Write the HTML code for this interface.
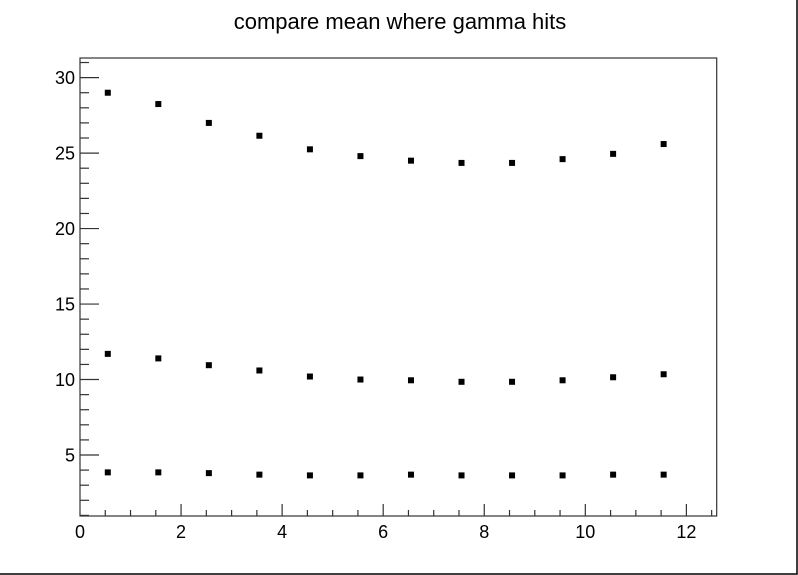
<!DOCTYPE html>
<html><head><meta charset="utf-8"><style>
body{margin:0;background:#fff}
svg{display:block;font-family:"Liberation Sans",Arial,sans-serif}
</style></head><body>
<svg id="c" width="798" height="575">
<polyline points="0,574 797,574 797,0" fill="none" stroke="#000" stroke-width="1.5"/>
<text x="400" y="29" text-anchor="middle" font-size="22">compare mean where gamma hits</text>
<g id="g"></g>
</svg>
<script>
const xs=[0.55,1.55,2.55,3.55,4.55,5.55,6.55,7.55,8.55,9.55,10.55,11.55];
const seriesTop=[29,28.25,27,26.15,25.25,24.8,24.5,24.35,24.35,24.6,24.95,25.6];
const seriesMid=[11.7,11.4,10.95,10.6,10.2,10.0,9.95,9.85,9.85,9.95,10.15,10.35];
const seriesLow=[3.85,3.85,3.8,3.7,3.65,3.65,3.7,3.65,3.65,3.65,3.7,3.7];
const xTicks=[0,2,4,6,8,10,12];
const yTicks=[5,10,15,20,25,30];
const L=80,R=716.7,T=58,B=516,x0=0,x1=12.6,y0=0.96,y1=31.3;
const X=v=>L+(v-x0)/(x1-x0)*(R-L);
const Y=v=>B-(v-y0)/(y1-y0)*(B-T);
const g=document.getElementById('g');const NS='http://www.w3.org/2000/svg';
function mk(t,a){const e=document.createElementNS(NS,t);for(const k in a)e.setAttribute(k,a[k]);g.appendChild(e);return e;}
let e=mk('rect',{x:L,y:T,width:R-L,height:B-T,fill:'none',stroke:'#333','stroke-width':1.2});


for(let v=0.5;v<=12.5;v+=0.5){const maj=Math.abs(v%2)<1e-9;
 e=mk('line',{x1:X(v),x2:X(v),y1:B,y2:B-(maj?12:6),stroke:'#333','stroke-width':1.2});
 
 }
xTicks.forEach(v=>{e=mk('text',{x:X(v),y:B+22,'text-anchor':'middle','font-size':18});e.textContent=v;
 
 });
for(let v=1;v<=31;v++){const maj=v%5===0;
 e=mk('line',{x1:L,x2:L+(maj?19:9),y1:Y(v),y2:Y(v),stroke:'#333','stroke-width':1.2});
 
 }
yTicks.forEach(v=>{e=mk('text',{x:L-5,y:Y(v)+6.5,'text-anchor':'end','font-size':18});e.textContent=v;
 
 });
[[seriesTop,'top'],[seriesMid,'mid'],[seriesLow,'low']].forEach(([s,n])=>{
 s.forEach((v,i)=>{e=mk('rect',{x:X(xs[i])-3,y:Y(v)-3,width:6,height:6,fill:'#000'});
 
 });
});
</script>
</body></html>
